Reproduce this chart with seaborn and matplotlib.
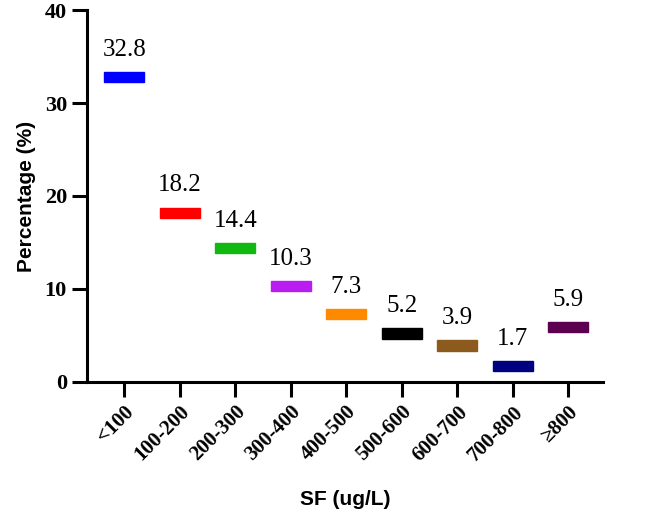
import numpy as np
import matplotlib
matplotlib.use("Agg")
import matplotlib.pyplot as plt
import seaborn as sns

# data
categories = ["<100", "100-200", "200-300", "300-400", "400-500",
              "500-600", "600-700", "700-800", "≥800"]
percentages = [32.8, 18.2, 14.4, 10.3, 7.3, 5.2, 3.9, 1.7, 5.9]
bar_colors = ["#0000ff", "#ff0000", "#12b812", "#b81cf0", "#ff8a00",
              "#000000", "#8c5a1c", "#000080", "#5c0050"]

sns.set_style("ticks", {"axes.edgecolor": "black", "text.color": "black",
                        "xtick.color": "black", "ytick.color": "black",
                        "axes.labelcolor": "black"})

fig = plt.figure(figsize=(6.5, 5.09), dpi=100)
ax = fig.add_axes([0.134, 0.25, 0.794, 0.73])

# short thick bars centred on each value
thick = 1.1
vals = np.array(percentages)
sns.barplot(x=categories, y=np.full(len(vals), thick), bottom=vals - thick / 2,
            color="k", width=0.72, ax=ax)
for p, c in zip(ax.patches, bar_colors):
    p.set_facecolor(c)
    p.set_edgecolor(c)

for i, v in enumerate(percentages):
    ax.text(i, v + 2.3, f"{v}", ha="center", va="baseline", color="black",
            fontsize=18, family="Liberation Serif")

ax.set_ylim(0, 40)
ax.set_xlim(-0.67, 8.63)
ax.set_yticks([0, 10, 20, 30, 40])

for s in ["left", "bottom"]:
    ax.spines[s].set_linewidth(2.2)
sns.despine(ax=ax)
ax.tick_params(length=11, width=2.2, direction="out", colors="black")

for lab in ax.get_yticklabels():
    lab.set_family("Liberation Serif")
    lab.set_fontweight("bold")
    lab.set_fontsize(16)
ax.set_xticks(range(len(categories)))
ax.set_xticklabels(categories, rotation=45, ha="right", rotation_mode="anchor",
                   family="Liberation Serif", fontweight="bold", fontsize=15)

ax.set_ylabel("Percentage (%)", family="Liberation Sans", fontweight="bold",
              fontsize=15, labelpad=6, color="black")
ax.set_xlabel("SF (ug/L)", family="Liberation Sans", fontweight="bold",
              fontsize=15, labelpad=18, color="black")

fig.savefig("out.png", dpi=100)
